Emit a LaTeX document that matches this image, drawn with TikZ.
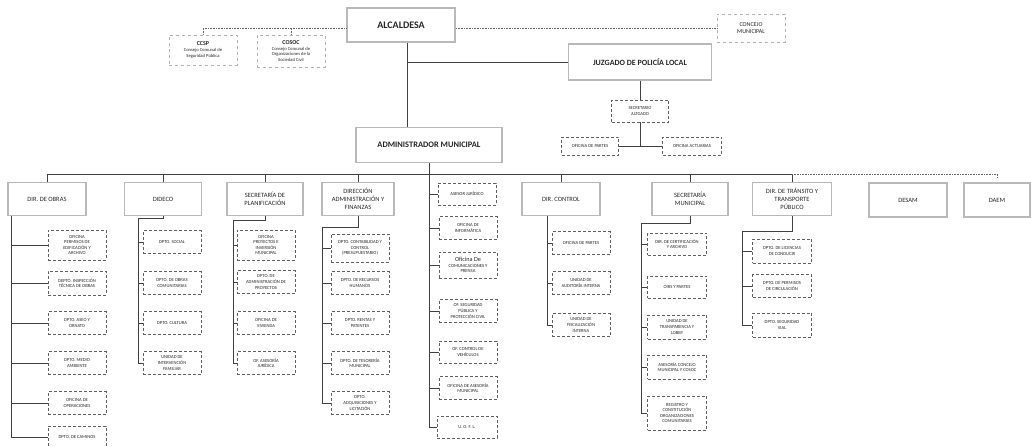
\documentclass[tikz,border=0pt]{standalone}
\usepackage{fontspec}
\setmainfont{Carlito}

\begin{document}
\begin{tikzpicture}[x=1pt, y=-1pt,
    every node/.style={font=\fontsize{4.6}{5.6}\selectfont, text=black!85, align=center, inner sep=1pt},
    head/.style={draw=gray!55, line width=1.4pt, minimum width=78pt, minimum height=33pt, font=\fontsize{6.5}{7.8}\selectfont},
    unit/.style={draw=gray!75!black, densely dashed, line width=0.5pt, minimum width=58pt, minimum height=23pt},
    note/.style={draw=gray!60, dashed, line width=0.5pt, minimum width=68pt, minimum height=30pt},
    link/.style={draw=black!75, line width=0.7pt},
    dots/.style={draw=black!60, densely dotted, line width=0.6pt}]
  \useasboundingbox (0,0) rectangle (1031,447);

  % Top level
  \node[head, line width=1.8pt, minimum width=108pt, minimum height=34pt, font=\bfseries\fontsize{10}{12}\selectfont] (alc) at (401,25) {ALCALDESA};
  \node[note] (ccsp) at (203,50) {{\bfseries\fontsize{6}{7}\selectfont CCSP}\\Consejo Comunal de\\Seguridad Pública};
  \node[note, minimum height=32pt] (cosoc) at (291,51) {{\bfseries\fontsize{6}{7}\selectfont COSOC}\\Consejo Comunal de\\Organizaciones de la\\Sociedad Civil};
  \node[note, minimum height=28pt, font=\fontsize{6}{7.2}\selectfont] (concejo) at (751,28) {CONCEJO\\MUNICIPAL};
  \node[head, minimum width=143pt, minimum height=36pt, font=\bfseries\fontsize{8}{10}\selectfont] (juz) at (640,62) {JUZGADO DE POLICÍA LOCAL};
  \node[unit, minimum width=57pt, minimum height=22pt] (sj) at (640,111) {SECRETARIO\\JUZGADO};
  \node[unit, minimum width=57pt, minimum height=18pt] (op) at (590,146) {OFICINA DE PARTES};
  \node[unit, minimum width=59pt, minimum height=18pt] (oa) at (692,146) {OFICINA ACTUARIAS};
  \node[head, minimum width=146pt, minimum height=35pt, font=\bfseries\fontsize{8.4}{10}\selectfont] (adm) at (429,145) {ADMINISTRADOR MUNICIPAL};

  \draw[dots] (alc.west |- concejo.west) -| (ccsp.north);
  \draw[dots] (alc.west |- concejo.west) -| (cosoc.north);
  \draw[dots] (alc.east |- concejo.west) -- (concejo.west);

  \coordinate (ax) at ([xshift=6pt]alc.south);
  \draw[link] (ax) -- (ax |- adm.north);
  \draw[link] (ax |- juz.west) -- (juz.west);
  \draw[link] (juz.south) -- (sj.north);
  \draw[link] (sj.south) |- (op.east);
  \draw[link] (sj.south) |- (oa.west);

  % Directions
  \node[head] (obras) at (47,199) {DIR. DE OBRAS};
  \node[head, minimum width=77pt] (dideco) at (163,199) {DIDECO};
  \node[head, minimum width=76pt] (planif) at (265,199) {SECRETARÍA DE\\PLANIFICACIÓN};
  \node[head, minimum width=72pt] (dafi) at (358,199) {DIRECCIÓN\\ADMINISTRACIÓN Y\\FINANZAS};
  \node[head] (control) at (561,199) {DIR. CONTROL};
  \node[head, minimum width=76pt] (secmun) at (690,199) {SECRETARÍA\\MUNICIPAL};
  \node[head, minimum width=79pt] (transito) at (792,199) {DIR. DE TRÁNSITO Y\\TRANSPORTE\\PÚBLICO};
  \node[head, minimum height=34pt] (desam) at (908,200) {DESAM};
  \node[head, minimum width=66pt, minimum height=34pt] (daem) at (997,200) {DAEM};

  \coordinate (bus) at (429,174);
  \foreach \h in {obras,dideco,planif,dafi,control,secmun,transito}
    \draw[link] (\h.north) |- (bus);
  \draw[dots] (transito.north |- bus) -- (bus -| daem.north) -- ++(0,4);

  % Administrador staff
  \node[unit, minimum height=22pt] (a1) at (467,194) {ASESOR JURÍDICO};
  \node[unit] (a2) at (468,228) {OFICINA DE\\INFORMÁTICA};
  \node[unit, minimum height=26pt] (a3) at (468,265) {{\fontsize{6.2}{7}\selectfont Oficina De}\\COMUNICACIONES Y\\PRENSA};
  \node[unit] (a4) at (468,311) {OF. SEGURIDAD\\PÚBLICA Y\\PROTECCIÓN CIVIL};
  \node[unit, minimum height=22pt] (a5) at (468,352) {OF. CONTROL DE\\VEHÍCULOS};
  \node[unit] (a6) at (468,388) {OFICINA DE ASESORÍA\\MUNICIPAL};
  \node[unit, minimum width=60pt, minimum height=22pt] (a7) at (467,427) {U. O. F. L.};
  \draw[link] (adm.south) |- (a7.west);
  \foreach \u in {a1,a2,a3,a4,a5,a6}
    \draw[link] (adm.south |- \u.west) -- (\u.west);

  % Dir. de Obras
  \node[unit, minimum height=30pt] (o1) at (77,245) {OFICINA\\PERMISOS DE\\EDIFICACIÓN Y\\ARCHIVO};
  \node[unit, minimum height=24pt] (o2) at (77,283) {DEPTO. INSPECCIÓN\\TÉCNICA DE OBRAS};
  \node[unit] (o3) at (77,323) {DPTO. ASEO Y\\ORNATO};
  \node[unit] (o4) at (77,363) {DPTO. MEDIO\\AMBIENTE};
  \node[unit] (o5) at (77,403) {OFICINA DE\\OPERACIONES};
  \node[unit, minimum height=22pt] (o6) at (77,437) {DPTO. DE CAMINOS};
  \coordinate (os) at ([xshift=4pt]obras.south west);
  \foreach \u in {o1,o2,o3,o4,o5,o6}
    \draw[link] (os) |- (\u.west);

  % Dideco
  \node[unit] (d1) at (172,242) {DPTO. SOCIAL};
  \node[unit] (d2) at (172,283) {DPTO. DE OBRAS\\COMUNITARIAS};
  \node[unit] (d3) at (172,323) {DPTO. CULTURA};
  \node[unit] (d4) at (172,363) {UNIDAD DE\\INTERVENCIÓN\\FAMILIAR};
  \coordinate (ds) at (138,218);
  \draw[link] (dideco.south) |- (ds);
  \foreach \u in {d1,d2,d3,d4}
    \draw[link] (ds) |- (\u.west);

  % Planificacion
  \node[unit, minimum height=30pt] (p1) at (266,245) {OFICINA\\PROYECTOS E\\INVERSIÓN\\MUNICIPAL};
  \node[unit] (p2) at (266,282) {DPTO. DE\\ADMINISTRACIÓN DE\\PROYECTOS};
  \node[unit] (p3) at (266,323) {OFICINA DE\\VIVIENDA};
  \node[unit] (p4) at (266,363) {OF. ASESORÍA\\JURÍDICA};
  \coordinate (ps) at (233,220);
  \draw[link] (planif.south) |- (ps);
  \foreach \u in {p1,p2,p3,p4}
    \draw[link] (ps) |- (\u.west);

  % Administracion y finanzas
  \node[unit, minimum height=28pt] (f1) at (360,248) {DPTO. CONTABILIDAD Y\\CONTROL\\(PRESUPUESTARIO)};
  \node[unit] (f2) at (360,283) {DPTO. DE RECURSOS\\HUMANOS};
  \node[unit] (f3) at (360,323) {DPTO. RENTAS Y\\PATENTES};
  \node[unit] (f4) at (360,363) {DPTO. DE TESORERÍA\\MUNICIPAL};
  \node[unit] (f5) at (360,403) {DPTO.\\ADQUISICIONES Y\\LICITACIÓN};
  \coordinate (fs) at (322,227);
  \draw[link] (dafi.south) |- (fs);
  \foreach \u in {f1,f2,f3,f4,f5}
    \draw[link] (fs) |- (\u.west);

  % Control
  \node[unit] (c1) at (581,243) {OFICINA DE PARTES};
  \node[unit] (c2) at (581,283) {UNIDAD DE\\AUDITORÍA INTERNA};
  \node[unit] (c3) at (581,325) {UNIDAD DE\\FISCALIZACIÓN\\INTERNA};
  \coordinate (cs) at ([xshift=26pt]control.south west);
  \foreach \u in {c1,c2,c3}
    \draw[link] (cs) |- (\u.west);

  % Secretaria municipal
  \node[unit, minimum width=59pt, minimum height=22pt] (s1) at (677,244) {DIR. DE CERTIFICACIÓN\\Y ARCHIVO};
  \node[unit, minimum width=59pt, minimum height=22pt] (s2) at (677,287) {OIRS Y PARTES};
  \node[unit, minimum width=59pt, minimum height=24pt] (s3) at (677,327) {UNIDAD DE\\TRANSPARENCIA Y\\LOBBY};
  \node[unit, minimum width=59pt, minimum height=24pt] (s4) at (677,367) {ASESORÍA CONCEJO\\MUNICIPAL Y COSOC};
  \node[unit, minimum width=59pt, minimum height=34pt] (s5) at (677,413) {REGISTRO Y\\CONSTITUCIÓN\\ORGANIZACIONES\\COMUNITARIAS};
  \coordinate (ss) at (641,223);
  \draw[link] (secmun.south) |- (ss);
  \foreach \u in {s1,s2,s3,s4,s5}
    \draw[link] (ss) |- (\u.west);

  % Transito
  \node[unit, minimum width=59pt, minimum height=24pt] (t1) at (782,251) {DPTO. DE LICENCIAS\\DE CONDUCIR};
  \node[unit, minimum width=59pt] (t2) at (782,286) {DPTO. DE PERMISOS\\DE CIRCULACIÓN};
  \node[unit, minimum width=59pt, minimum height=24pt] (t3) at (782,325) {DPTO. SEGURIDAD\\VIAL};
  \coordinate (ts) at (742,231);
  \draw[link] (transito.south) |- (ts);
  \foreach \u in {t1,t2,t3}
    \draw[link] (ts) |- (\u.west);
\end{tikzpicture}
\end{document}
